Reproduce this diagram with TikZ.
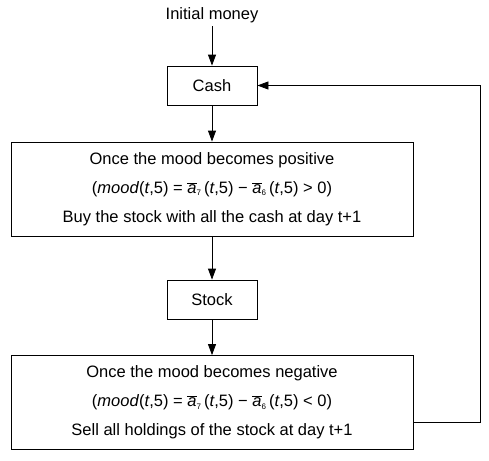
\documentclass[tikz,border=0pt]{standalone}
\usepackage{fontspec}
\setmainfont{Liberation Sans}
\usetikzlibrary{positioning}
\usetikzlibrary{arrows.meta}

\tikzset{
  smallbox/.style={draw,rectangle,minimum width=90pt,minimum height=39pt,inner sep=0pt},
  bigbox/.style={draw,rectangle,minimum width=402pt,minimum height=94pt,inner sep=0pt,align=center,font=\fontsize{16.5}{29}\selectfont},
  flow/.style={-{Triangle[length=11pt,width=8pt]}}
}
\newcommand{\abar}[1]{$\overline{\mbox{\itshape a}}_{\mbox{\fontsize{8}{8}\selectfont #1}}$\,}

\begin{document}
\begin{tikzpicture}[x=1pt,y=-1pt,line width=0.8pt,every node/.style={font=\fontsize{16.5}{20}\selectfont}]
  \useasboundingbox (0,0) rectangle (489,460);
  \node (start) at (212,15) {Initial money};
  \node[smallbox] (cash) at (212,85.5) {Cash};
  \node[bigbox] (buy) at (212,189) {Once the mood becomes positive\\
    (\textit{mood}(\textit{t},5)\;=\;\abar{7}(\textit{t},5)\;−\;\abar{6}(\textit{t},5)\;>\;0)\\
    Buy the stock with all the cash at day t+1};
  \node[smallbox] (stock) at (212,299.5) {Stock};
  \node[bigbox] (sell) at (212,402.5) {Once the mood becomes negative\\
    (\textit{mood}(\textit{t},5)\;=\;\abar{7}(\textit{t},5)\;−\;\abar{6}(\textit{t},5)\;<\;0)\\
    Sell all holdings of the stock at day t+1};
  \coordinate (turn) at (480,422);

  % main flow
  \draw[flow] (start) -- (cash);
  \draw[flow] (cash) -- (buy);
  \draw[flow] (buy) -- (stock);
  \draw[flow] (stock) -- (sell);
  % back to cash
  \draw[flow] (sell.east |- turn) -- (turn) |- (cash.east);
\end{tikzpicture}
\end{document}
